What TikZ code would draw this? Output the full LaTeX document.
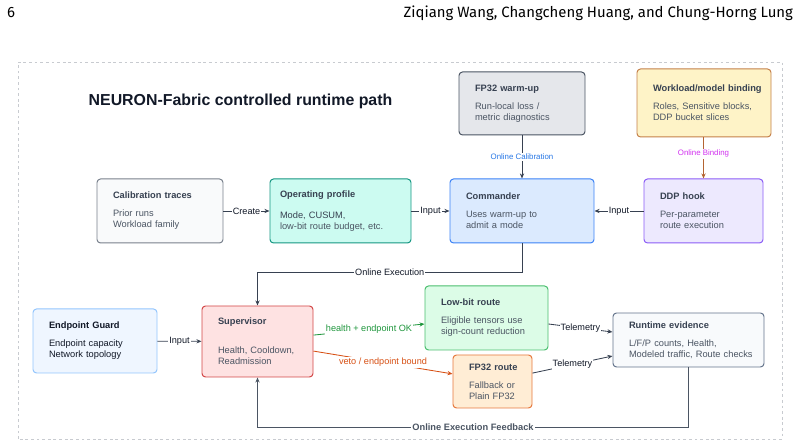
\documentclass[tikz,border=0pt]{standalone}
\usepackage{fontspec}
\setmainfont{Liberation Sans}
\newfontfamily\hdrfont{Fira Sans}
\usepackage{tikz}
\usetikzlibrary{arrows.meta, calc}
\definecolor{inkdark}{RGB}{17,24,39}
\definecolor{inktitle}{RGB}{55,65,81}
\definecolor{inkbody}{RGB}{75,85,99}
\definecolor{linkgray}{RGB}{55,65,81}
\definecolor{framegray}{RGB}{200,203,208}
\definecolor{hdrwarm}{RGB}{229,231,235}
\definecolor{edgewarm}{RGB}{75,85,99}
\definecolor{hdrbind}{RGB}{254,243,199}
\definecolor{edgebind}{RGB}{196,128,74}
\definecolor{hdrtrace}{RGB}{249,250,251}
\definecolor{edgetrace}{RGB}{120,128,140}
\definecolor{hdrprof}{RGB}{204,251,241}
\definecolor{edgeprof}{RGB}{20,150,130}
\definecolor{hdrcmd}{RGB}{219,234,254}
\definecolor{edgecmd}{RGB}{59,130,246}
\definecolor{hdrddp}{RGB}{237,233,254}
\definecolor{edgeddp}{RGB}{139,92,246}
\definecolor{hdrguard}{RGB}{239,246,255}
\definecolor{edgeguard}{RGB}{147,197,253}
\definecolor{hdrsup}{RGB}{254,226,226}
\definecolor{edgesup}{RGB}{210,70,70}
\definecolor{hdrlow}{RGB}{220,252,231}
\definecolor{edgelow}{RGB}{74,190,110}
\definecolor{hdrfpr}{RGB}{255,237,213}
\definecolor{edgefpr}{RGB}{230,120,60}
\definecolor{hdrevid}{RGB}{248,250,252}
\definecolor{edgeevid}{RGB}{100,116,139}
\definecolor{lblgreen}{RGB}{30,150,60}
\definecolor{lblred}{RGB}{215,80,20}
\definecolor{lblblue}{RGB}{40,120,230}
\definecolor{lblmag}{RGB}{210,50,240}
\definecolor{linkbrown}{RGB}{180,100,50}
\newcommand{\boxfont}{\fontsize{6.6}{7.8}\selectfont}
\newcommand{\boxtitle}[1]{{\color{inktitle}\bfseries #1}}
\tikzset{
  card/.style={rectangle, rounded corners=2.5pt, line width=0.7pt,
    align=left, inner xsep=0.4cm, inner ysep=0pt, font=\boxfont,
    text=inkbody},
  warmbox/.style={card, draw=edgewarm, fill=hdrwarm},
  bindbox/.style={card, draw=edgebind, fill=hdrbind},
  tracebox/.style={card, draw=edgetrace, fill=hdrtrace},
  profbox/.style={card, draw=edgeprof, fill=hdrprof},
  cmdbox/.style={card, draw=edgecmd, fill=hdrcmd},
  ddpbox/.style={card, draw=edgeddp, fill=hdrddp},
  guardbox/.style={card, draw=edgeguard, fill=hdrguard},
  supbox/.style={card, draw=edgesup, fill=hdrsup},
  lowbox/.style={card, draw=edgelow, fill=hdrlow},
  fprbox/.style={card, draw=edgefpr, fill=hdrfpr},
  evidbox/.style={card, draw=edgeevid, fill=hdrevid},
  conn/.style={draw=linkgray, line width=0.6pt,
    -{Stealth[length=3.6pt, width=3pt]}},
  lbl/.style={fill=white, inner sep=0.8pt, font=\fontsize{6.5}{7}\selectfont,
    text=inkdark},
  smalllbl/.style={fill=white, inner sep=0.8pt, font=\fontsize{5.6}{6}\selectfont}
}
\begin{document}
\begin{tikzpicture}
  \useasboundingbox (0,0) rectangle (20.05,11.15);
  % Page header
  \node[font=\hdrfont\fontsize{10.6}{12}\selectfont, anchor=base west, inner sep=0pt]
    (pageno) at (0.17,10.71) {6};
  \node[font=\hdrfont\fontsize{10.6}{12}\selectfont, anchor=base east, inner sep=0pt]
    (authors) at (19.83,10.71) {Ziqiang Wang, Changcheng Huang, and Chung-Horng Lung};
  % Frame and title
  \draw[framegray, line width=0.6pt, dash pattern=on 2pt off 2pt]
    (0.45,0.175) rectangle (19.55,9.6);
  \node[font=\fontsize{11.3}{13}\selectfont\bfseries, text=inkdark]
    (title) at (6.0125,8.625) {NEURON-Fabric controlled runtime path};
  % Top row
  \node[warmbox, minimum width=3.15cm, minimum height=1.575cm, text width=2.35cm]
    (warmup) at (13.05,8.5625)
    {\boxtitle{FP32 warm-up}\\[5pt]Run-local loss /\\metric diagnostics};
  \node[bindbox, minimum width=3.35cm, minimum height=1.7cm, text width=2.55cm]
    (binding) at (17.6,8.575)
    {\boxtitle{\mbox{Workload/model binding}}\\[5pt]Roles, Sensitive blocks,\\DDP bucket slices};
  % Middle row
  \node[tracebox, minimum width=3.15cm, minimum height=1.6cm, text width=2.35cm]
    (traces) at (4.0,5.875)
    {\boxtitle{Calibration traces}\\[5pt]Prior runs\\Workload family};
  \node[profbox, inner xsep=0.25cm, minimum width=3.525cm, minimum height=1.6cm,
    text width=3.025cm] (profile) at (8.5125,5.875)
    {\boxtitle{Operating profile}\\[7pt]{\color{inktitle}Mode, CUSUM,}\\low-bit route budget, etc.};
  \node[cmdbox, minimum width=3.6cm, minimum height=1.6cm, text width=2.8cm]
    (commander) at (13.05,5.875)
    {\boxtitle{Commander}\\[5pt]Uses warm-up to\\admit a mode};
  \node[ddpbox, minimum width=2.975cm, minimum height=1.6cm, text width=2.175cm]
    (ddp) at (17.5875,5.875)
    {\boxtitle{DDP hook}\\[5pt]Per-parameter\\route execution};
  % Bottom row
  \node[guardbox, minimum width=3.1cm, minimum height=1.6cm, text width=2.3cm]
    (guard) at (2.375,2.625)
    {{\color{inkdark}\bfseries Endpoint Guard}\\[5pt]{\color{inkdark}Endpoint capacity}\\{\color{inkdark}Network topology}};
  \node[supbox, minimum width=2.775cm, minimum height=1.775cm, text width=1.975cm]
    (sup) at (6.4375,2.6125)
    {\boxtitle{Supervisor}\\[13pt]Health, Cooldown,\\Readmission};
  \node[lowbox, minimum width=3.075cm, minimum height=1.6cm, text width=2.275cm]
    (lowbit) at (12.1625,3.2)
    {\boxtitle{Low-bit route}\\[5pt]Eligible tensors use\\sign-count reduction};
  \node[fprbox, minimum width=1.975cm, minimum height=1.325cm, text width=1.175cm]
    (fproute) at (12.3125,1.6125)
    {\boxtitle{\mbox{FP32 route}}\\[5pt]\mbox{Fallback or}\\\mbox{Plain FP32}};
  \node[evidbox, minimum width=3.775cm, minimum height=1.35cm, text width=2.975cm]
    (evidence) at (17.2125,2.65)
    {\boxtitle{Runtime evidence}\\[5pt]L/F/P counts, Health,\\\mbox{Modeled traffic, Route checks}};
  % Calibration and binding feeds
  \draw[conn] (warmup) -- node[smalllbl, text=lblblue] {Online Calibration} (commander);
  \draw[conn, draw=linkbrown] (ddp.north |- binding.south) --
    node[smalllbl, text=lblmag, pos=0.4] {Online Binding} (ddp.north);
  % Inputs along the middle row
  \draw[conn] (traces) -- node[lbl] {Create} (profile);
  \draw[conn] (profile) -- node[lbl] {Input} (commander);
  \draw[conn] (ddp) -- node[lbl] {Input} (commander);
  % Execution path
  \draw[conn] (commander.south) |- node[lbl, pos=0.75] {Online Execution}
    ($(sup.north)+(0,0.825)$) -- (sup.north);
  \draw[conn] (guard) -- node[lbl] {Input} (sup);
  \draw[conn, draw=lblgreen] ([yshift=0.16cm]sup.east) --
    node[lbl, text=lblgreen] {health + endpoint OK} ([yshift=-0.15cm]lowbit.west);
  \draw[conn, draw=lblred] ([yshift=-0.24cm]sup.east) --
    node[lbl, text=lblred] {veto / endpoint bound} ([yshift=0.19cm]fproute.west);
  % Telemetry
  \draw[conn] ([yshift=-0.15cm]lowbit.east) --
    node[lbl] {Telemetry} ([yshift=0.2cm]evidence.west);
  \draw[conn] ([yshift=0.21cm]fproute.east) --
    node[lbl] {Telemetry} ([yshift=-0.4cm]evidence.west);
  % Feedback loop
  \draw[conn, draw=inkbody] (evidence.south) |-
    node[lbl, pos=0.75, text=inkbody, font=\fontsize{6.6}{7}\selectfont\bfseries]
    {Online Execution Feedback} ($(sup.south)+(0,-1.25)$) -- (sup.south);
\end{tikzpicture}
\end{document}
